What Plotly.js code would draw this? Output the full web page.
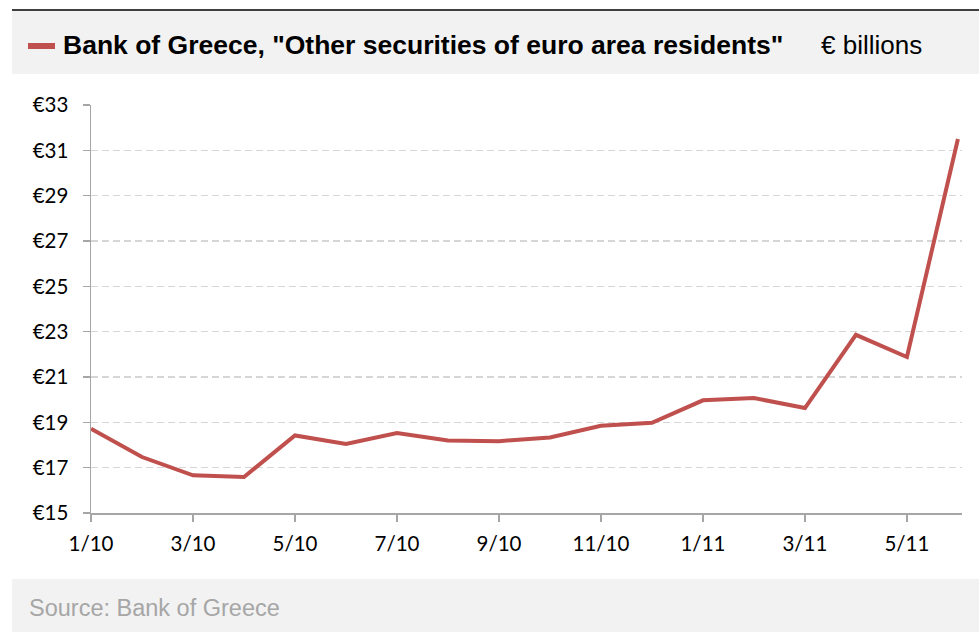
<!DOCTYPE html>
<html>
<head>
<meta charset="utf-8">
<script src="https://cdn.plot.ly/plotly-3.0.1.min.js"></script>
<style>
html,body{margin:0;padding:0;background:#fff;}
#chart{width:979px;height:632px;}
</style>
</head>
<body>
<div id="chart"></div>
<script>
// Monthly data, Jan 2010 – Jun 2011 (€ billions)
const months = ['1/10','2/10','3/10','4/10','5/10','6/10','7/10','8/10','9/10','10/10','11/10','12/10','1/11','2/11','3/11','4/11','5/11','6/11'];
const values = [18.72, 17.47, 16.66, 16.59, 18.42, 18.05, 18.53, 18.2, 18.17, 18.33, 18.85, 18.98, 19.97, 20.07, 19.63, 22.86, 21.88, 31.5];
const tickMonths = ['1/10','3/10','5/10','7/10','9/10','11/10','1/11','3/11','5/11'];
const yTicks = [15,17,19,21,23,25,27,29,31,33];
const seriesName = 'Bank of Greece, "Other securities of euro area residents"';
const unitLabel = '€ billions';
const sourceLabel = 'Source: Bank of Greece';

const xIdx = months.map((m, i) => i);
const tickIdx = tickMonths.map(m => months.indexOf(m));

const W = 979, H = 632;
const L = 91, R = 17, T = 105, B = 119;
const pw = W - L - R, ph = H - T - B;
const px = x => (x - L) / pw;
const py = y => (H - B - y) / ph;

const tickFont = {family: 'Lato, "Open Sans", sans-serif', size: 20.5, color: '#000'};

const trace = {
  x: xIdx,
  y: values,
  type: 'scatter',
  mode: 'lines',
  name: seriesName,
  line: {color: '#c0504d', width: 4},
  hoverinfo: 'skip'
};

const layout = {
  width: W, height: H,
  margin: {l: L, r: R, t: T, b: B},
  paper_bgcolor: '#ffffff',
  plot_bgcolor: '#ffffff',
  showlegend: false,
  font: tickFont,
  xaxis: {
    range: [0, 17.08],
    tickvals: tickIdx,
    ticktext: tickMonths,
    showgrid: false,
    zeroline: false,
    showline: true,
    linecolor: '#a6a6a6',
    linewidth: 1.5,
    ticks: 'outside',
    ticklen: 7,
    tickwidth: 1.5,
    tickcolor: '#a6a6a6',
    tickfont: tickFont,
    ticklabelstandoff: 5,
    fixedrange: true
  },
  yaxis: {
    range: [15, 33],
    tickvals: yTicks,
    ticktext: yTicks.map(v => '€' + v),
    showgrid: true,
    gridcolor: '#d6d6d6',
    gridwidth: 1.5,
    griddash: '7px,4px',
    zeroline: false,
    showline: true,
    linecolor: '#a6a6a6',
    linewidth: 1.5,
    ticks: 'outside',
    ticklen: 7,
    tickwidth: 1.5,
    tickcolor: '#a6a6a6',
    tickfont: tickFont,
    ticklabelstandoff: 10,
    fixedrange: true
  },
  shapes: [
    // header band
    {type: 'rect', xref: 'paper', yref: 'paper', x0: px(12), x1: px(979), y0: py(74), y1: py(11),
     fillcolor: '#f2f2f2', line: {width: 0}, layer: 'below'},
    // top rule
    {type: 'line', xref: 'paper', yref: 'paper', x0: px(12), x1: px(979), y0: py(10), y1: py(10),
     line: {color: '#000', width: 1.5}},
    // footer band
    {type: 'rect', xref: 'paper', yref: 'paper', x0: px(12), x1: px(979), y0: py(632), y1: py(579),
     fillcolor: '#f2f2f2', line: {width: 0}, layer: 'below'},
    // legend swatch
    {type: 'line', xref: 'paper', yref: 'paper', x0: px(28), x1: px(55), y0: py(46), y1: py(46),
     line: {color: '#c0504d', width: 6}}
  ],
  annotations: [
    {xref: 'paper', yref: 'paper', x: px(61), y: py(45), xanchor: 'left', yanchor: 'middle',
     text: '<b>' + seriesName + '</b>', showarrow: false,
     font: {family: '"Liberation Sans", Arial, sans-serif', size: 26.5, color: '#000'}},
    {xref: 'paper', yref: 'paper', x: px(819), y: py(45), xanchor: 'left', yanchor: 'middle',
     text: unitLabel, showarrow: false,
     font: {family: '"Liberation Sans", Arial, sans-serif', size: 26, color: '#000'}},
    {xref: 'paper', yref: 'paper', x: px(27), y: py(608), xanchor: 'left', yanchor: 'middle',
     text: sourceLabel, showarrow: false,
     font: {family: '"Liberation Sans", Arial, sans-serif', size: 23.5, color: '#a6a6a6'}}
  ]
};

Plotly.newPlot('chart', [trace], layout, {displayModeBar: false, staticPlot: true});
</script>
</body>
</html>
